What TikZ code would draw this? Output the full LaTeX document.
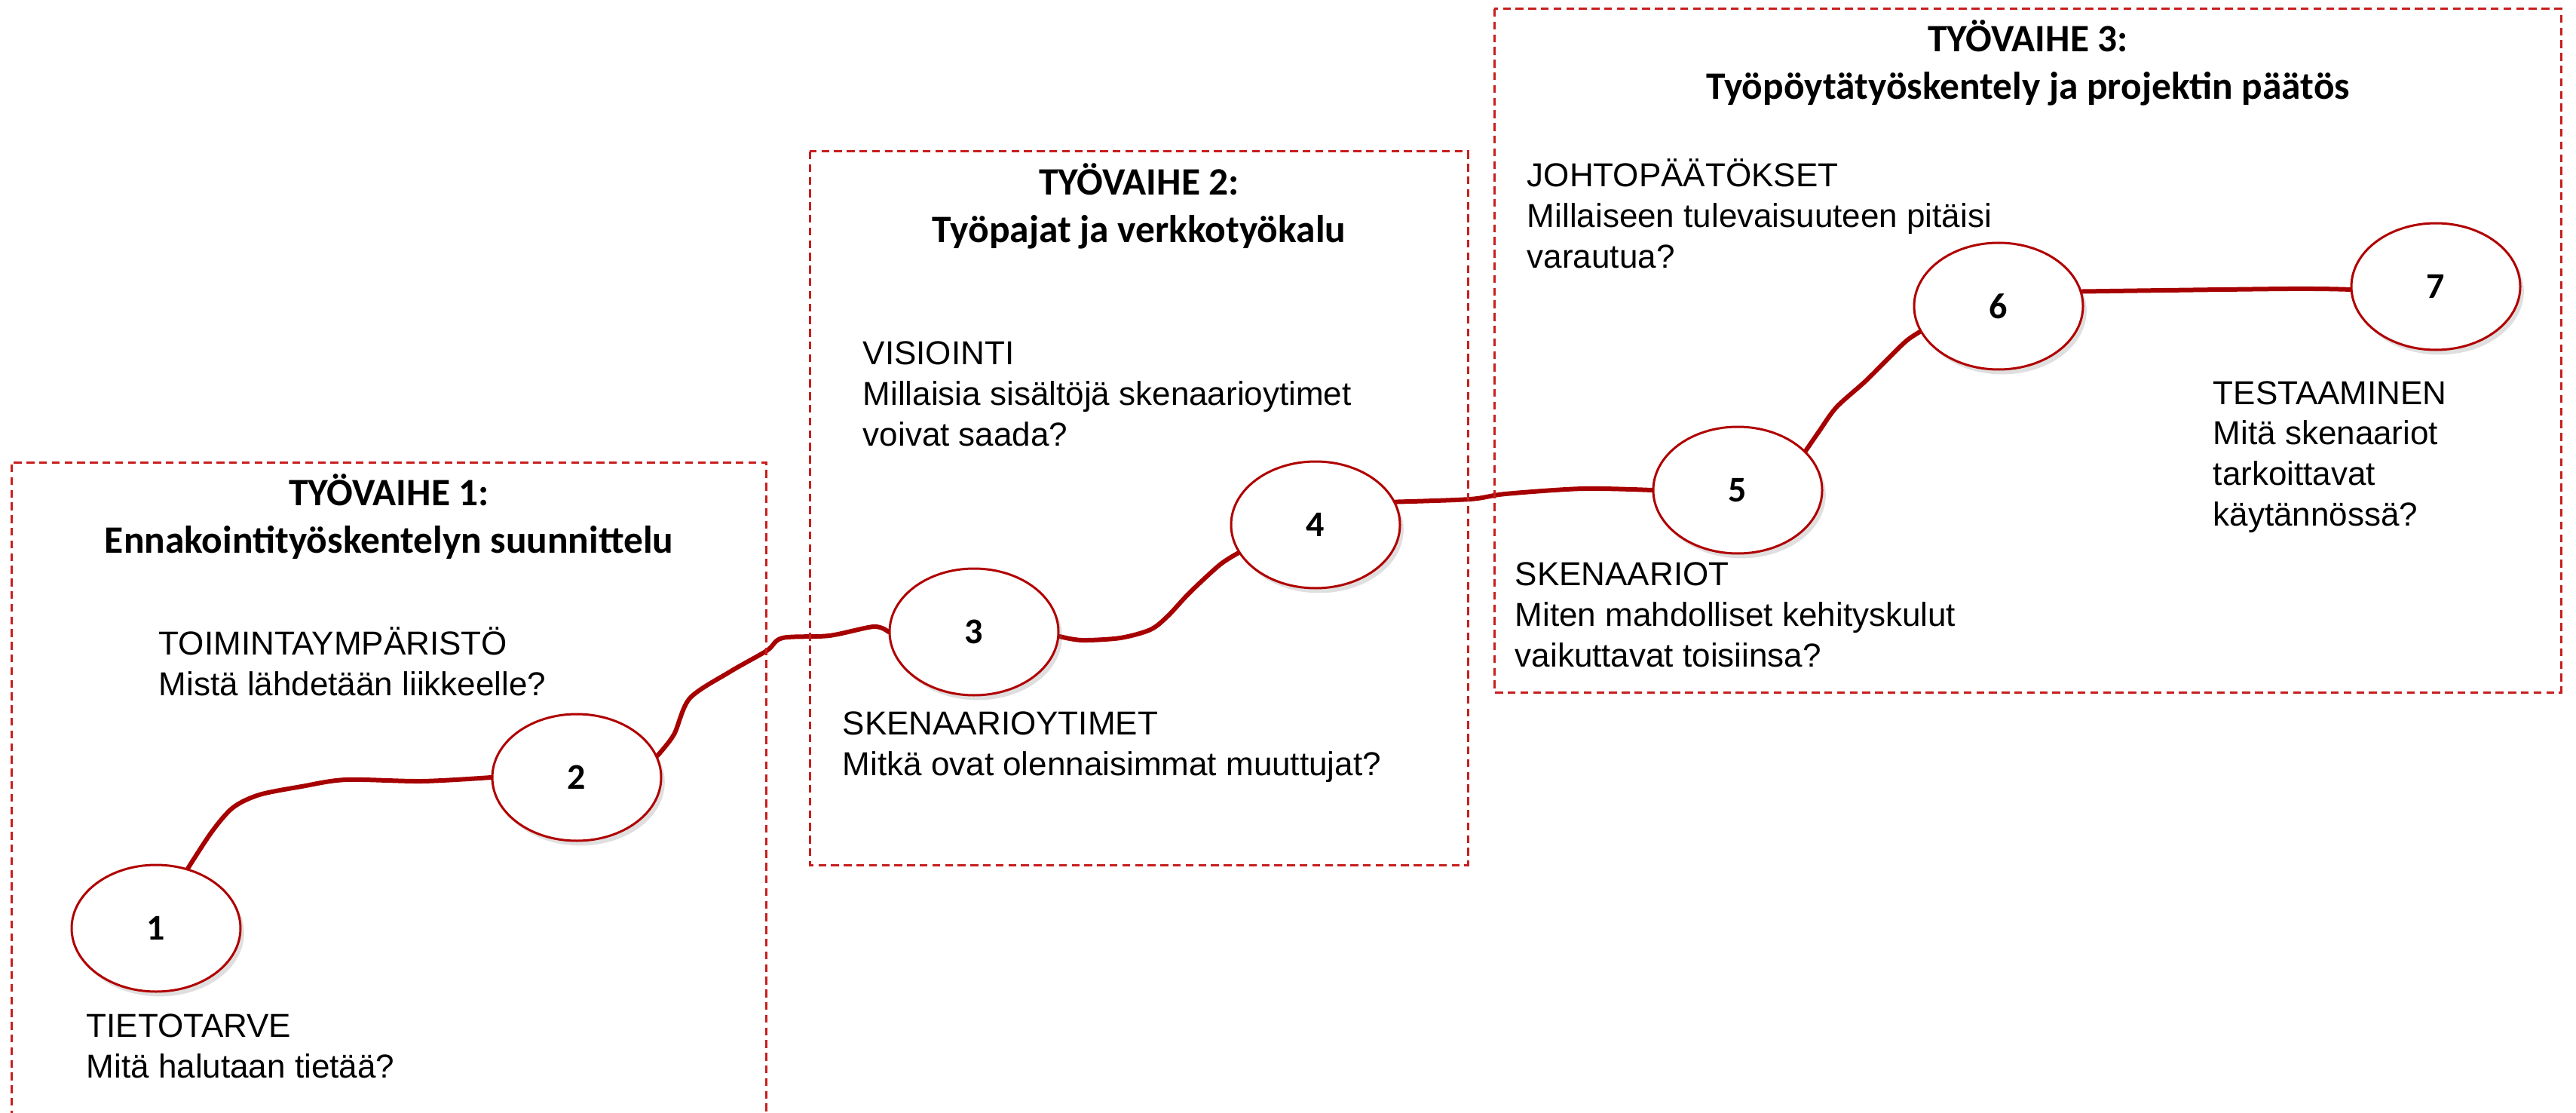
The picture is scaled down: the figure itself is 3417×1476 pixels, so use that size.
\documentclass[tikz,border=0pt]{standalone}
\usepackage{fontspec}
\setmainfont{Liberation Sans}
\newfontfamily\headfont{Carlito}
\usetikzlibrary{shapes.geometric,shadows,backgrounds}
\definecolor{ringred}{RGB}{176,0,0}
\definecolor{linered}{RGB}{166,0,0}
\definecolor{boxred}{RGB}{200,30,30}
\tikzset{
  stepell/.style={ellipse, draw=ringred, line width=0.75pt, fill=white,
    minimum width=56pt, minimum height=42pt, inner sep=0pt,
    font=\headfont\bfseries\fontsize{12}{14}\selectfont,
    drop shadow={shadow xshift=1.2pt, shadow yshift=-1.6pt, opacity=0.25}},
  conn/.style={draw=linered, line width=1.5pt, line cap=round, line join=round},
  phasebox/.style={draw=boxred, line width=0.75pt, dash pattern=on 2.6pt off 1.6pt},
  headtxt/.style={anchor=base, align=center, inner sep=0pt,
    font=\headfont\bfseries\fontsize{12.85}{15.75}\selectfont},
  bodytxt/.style={anchor=base west, align=left, inner sep=0pt,
    font=\fontsize{11}{13.4}\selectfont}
}
\begin{document}
\begin{tikzpicture}[x=0.25pt, y=-0.25pt]
\useasboundingbox (0,0) rectangle (3417,1476);

% phase boxes
\draw[phasebox] (15,1500) -- (15,613) -- (1016,613) -- (1016,1500);
\draw[phasebox] (1074,201) rectangle (1947,1147);
\draw[phasebox] (1982,12) rectangle (3397,918);

% headers (anchor = baseline of the last line)
\node[headtxt] (h1) at (516,733) {TYÖVAIHE 1:\\Ennakointityöskentelyn suunnittelu};
\node[headtxt] (h2) at (1511,322) {TYÖVAIHE 2:\\Työpajat ja verkkotyökalu};
\node[headtxt] (h3) at (2690,132) {TYÖVAIHE 3:\\Työpöytätyöskentely ja projektin päätös};

% ellipses
\node[stepell] (e1) at (207,1231) {1};
\node[stepell] (e2) at (765,1031) {2};
\node[stepell] (e3) at (1292,838) {3};
\node[stepell] (e4) at (1745,696) {4};
\node[stepell] (e5) at (2305,650) {5};
\node[stepell] (e6) at (2651,406) {6};
\node[stepell] (e7) at (3231,380) {7};

% texts (anchor = baseline of the last line)
\node[bodytxt] (t1) at (114,1429) {TIETOTARVE\\Mitä halutaan tietää?};
\node[bodytxt] (t2) at (210,922) {TOIMINTAYMPÄRISTÖ\\Mistä lähdetään liikkeelle?};
\node[bodytxt] (t3) at (1117,1028) {SKENAARIOYTIMET\\Mitkä ovat olennaisimmat muuttujat?};
\node[bodytxt] (t4) at (1144,591) {VISIOINTI\\Millaisia sisältöjä skenaarioytimet\\voivat saada?};
\node[bodytxt] (t5) at (2009,884) {SKENAARIOT\\Miten mahdolliset kehityskulut\\vaikuttavat toisiinsa?};
\node[bodytxt] (t6) at (2025,355) {JOHTOPÄÄTÖKSET\\Millaiseen tulevaisuuteen pitäisi\\varautua?};
\node[bodytxt] (t7) at (2935,697) {TESTAAMINEN\\Mitä skenaariot\\tarkoittavat\\käytännössä?};

% connectors
\begin{pgfonlayer}{background}
\draw[conn] plot[smooth, tension=0.5] coordinates {(e1.62) (281,1103) (309,1071) (344,1054) (400,1043) (459,1034) (560,1036) (e2.west)};
\draw[conn] plot[smooth, tension=0.5] coordinates {(e2.15) (894,974) (915,926) (968,891) (1017,863) (1038,846) (1100,843) (1159,831) (e3.west)};
\draw[conn] plot[smooth, tension=0.5] coordinates {(e3.-3) (1435,849) (1486,846) (1526,835) (1549,817) (1578,786) (1618,749) (e4.200)};
\draw[conn] plot[smooth, tension=0.5] coordinates {(e4.16) (1950,662) (1997,655) (2100,648) (e5.west)};
\draw[conn] plot[smooth, tension=0.5] coordinates {(e5.30) (2413,572) (2436,540) (2475,505) (2511,469) (2530,451) (e6.198)};
\draw[conn] plot[smooth, tension=0.5] coordinates {(e6.10) (3035,383) (e7.182)};
\end{pgfonlayer}
\end{tikzpicture}
\end{document}
